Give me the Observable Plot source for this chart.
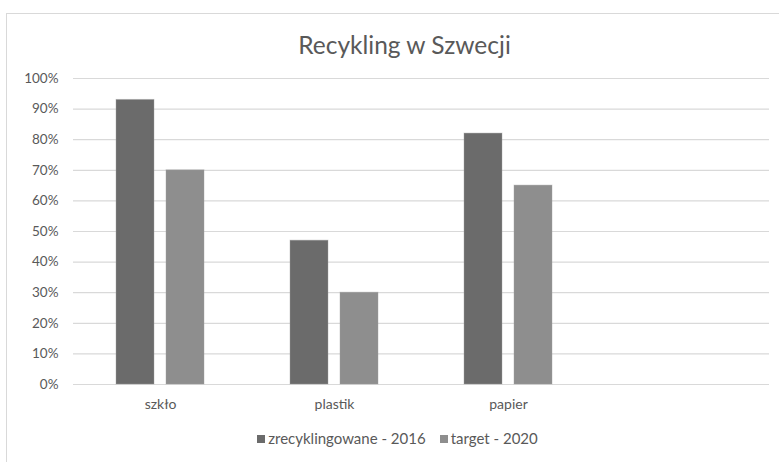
<!DOCTYPE html>
<html>
<head>
<meta charset="utf-8">
<script src="https://cdn.jsdelivr.net/npm/d3@7"></script>
<script src="https://cdn.jsdelivr.net/npm/@observablehq/plot@0.6"></script>
<style>
  html, body { margin: 0; padding: 0; background: #fff; }
  body { width: 779px; height: 462px; position: relative; overflow: hidden; font-family: Lato, "Open Sans", sans-serif; }
  #frame { position: absolute; left: 6px; top: 13px; width: 790px; height: 470px; border: 1px solid #d9d9d9; box-sizing: border-box; }
  #title { position: absolute; left: 15px; width: 779px; top: 30px; text-align: center; font-size: 24.5px; line-height: 30px; color: #595959; }
  #chart { position: absolute; left: 0; top: 0; }
  #legend { position: absolute; left: 8px; width: 779px; top: 428px; text-align: center; font-size: 15px; line-height: 20px; color: #595959; }
  #legend span.item { margin: 0 7px; }
  #legend span.sw { display: inline-block; width: 8px; height: 8px; margin-right: 3px; vertical-align: 1px; }
</style>
</head>
<body>
<div id="frame"></div>
<div id="title">Recykling w Szwecji</div>
<div id="chart"></div>
<div id="legend"></div>
<script>
// Materials on the category axis; the last slot is left blank.
const categories = ["szkło", "plastik", "papier", " "];
const series = ["zrecyklingowane - 2016", "target - 2020"];
const recycled2016 = [0.93, 0.47, 0.82];
const target2020 = [0.70, 0.30, 0.65];
const yTicks = [0, 0.1, 0.2, 0.3, 0.4, 0.5, 0.6, 0.7, 0.8, 0.9, 1.0];
const colors = ["#6b6b6b", "#8e8e8e"];

// Long-format rows for grouped bars
const rows = [];
categories.slice(0, 3).forEach((c, i) => {
  rows.push({category: c, series: series[0], value: recycled2016[i]});
  rows.push({category: c, series: series[1], value: target2020[i]});
});

// Gridlines carry the category too, so every panel (the blank one included) is drawn
const grid = categories.flatMap((c) => yTicks.map((t) => ({category: c, tick: t})));

const chart = Plot.plot({
  width: 779,
  height: 430,
  marginTop: 78,
  marginBottom: 46,
  marginLeft: 72,
  marginRight: 10,
  style: {fontFamily: "Lato, 'Open Sans', sans-serif", fontSize: "13.5px", color: "#595959", background: "transparent", overflow: "visible"},
  fx: {domain: categories, padding: 0, label: null, axis: "bottom", tickSize: 0, tickPadding: 15},
  x: {domain: series, axis: null, paddingInner: 0.24, paddingOuter: 0.83},
  y: {domain: [0, 1], ticks: yTicks, tickFormat: d3.format(".0%"), label: null, tickSize: 0, tickPadding: 15},
  color: {domain: series, range: colors},
  marks: [
    Plot.ruleY(grid, {fx: "category", y: "tick", stroke: "#d9d9d9", strokeWidth: 1.2}),
    Plot.barY(rows, {fx: "category", x: "series", y: "value", fill: "series", stroke: "#a0a0a0", strokeOpacity: 0.4})
  ]
});
chart.querySelectorAll("[aria-label='fx-axis tick label'] text").forEach((t) => t.style.fontSize = "14px");
document.getElementById("chart").appendChild(chart);

// Legend below the plot
const legend = document.getElementById("legend");
series.forEach((s, i) => {
  const item = document.createElement("span");
  item.className = "item";
  const sw = document.createElement("span");
  sw.className = "sw";
  sw.style.background = colors[i];
  item.appendChild(sw);
  item.appendChild(document.createTextNode(s));
  legend.appendChild(item);
});
</script>
</body>
</html>
